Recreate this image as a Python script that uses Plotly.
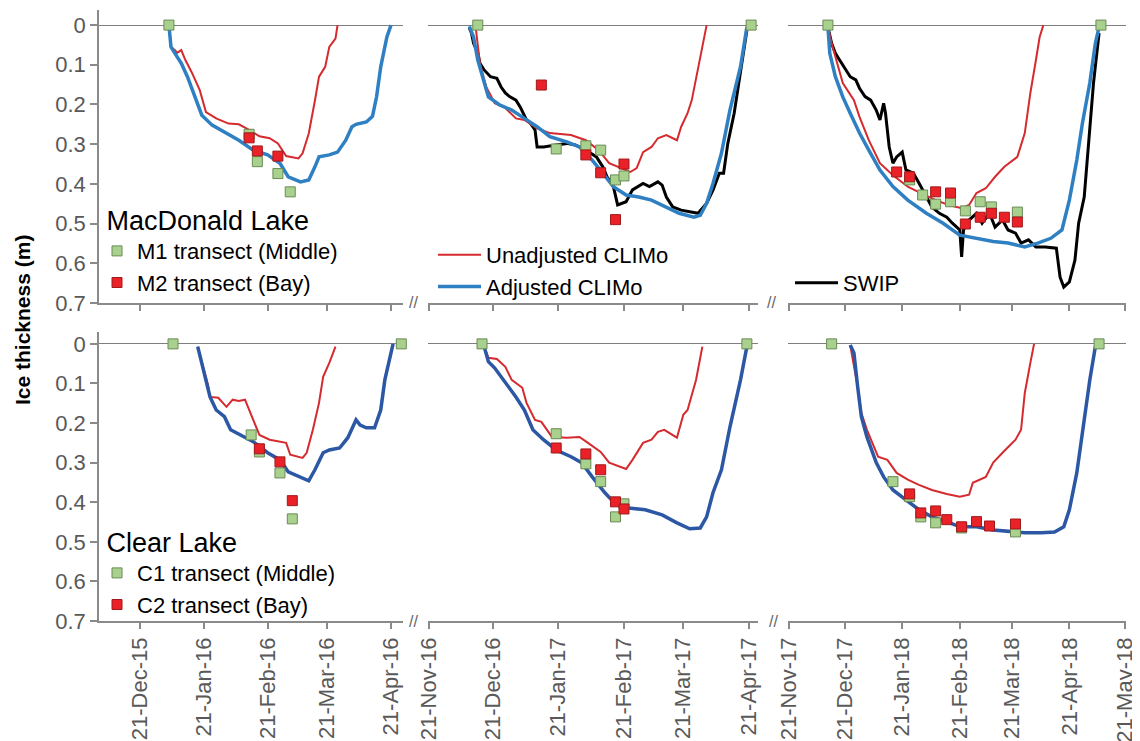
import plotly.graph_objects as go

# ---------------- MacDonald Lake ----------------
# 2015-16
mac16_unadj_dates = ["2016-01-04","2016-01-05","2016-01-07","2016-01-08","2016-01-10","2016-01-12","2016-01-15","2016-01-19","2016-01-22","2016-01-27","2016-02-02","2016-02-07","2016-02-12","2016-02-17","2016-02-22","2016-02-26","2016-03-01","2016-03-07","2016-03-09","2016-03-12","2016-03-15","2016-03-17","2016-03-20","2016-03-22","2016-03-25","2016-03-26"]
mac16_unadj = [0,0.055,0.063,0.07,0.063,0.088,0.118,0.164,0.219,0.235,0.248,0.25,0.264,0.28,0.285,0.298,0.33,0.336,0.323,0.273,0.19,0.13,0.105,0.055,0.034,0]
mac16_adj_dates = ["2016-01-04","2016-01-05","2016-01-08","2016-01-10","2016-01-13","2016-01-16","2016-01-20","2016-01-25","2016-02-01","2016-02-07","2016-02-14","2016-02-21","2016-02-27","2016-03-02","2016-03-08","2016-03-12","2016-03-15","2016-03-17","2016-03-22","2016-03-26","2016-03-30","2016-04-02","2016-04-04","2016-04-09","2016-04-12","2016-04-14","2016-04-16","2016-04-19","2016-04-21"]
mac16_adj = [0,0.055,0.08,0.096,0.13,0.17,0.227,0.252,0.273,0.29,0.315,0.327,0.348,0.382,0.395,0.39,0.357,0.332,0.327,0.32,0.29,0.256,0.25,0.244,0.23,0.18,0.105,0.03,0]
mac16_m1_dates = ["2016-01-04","2016-02-12","2016-02-16","2016-02-26","2016-03-03","2016-04-27"]
mac16_m1 = [0,0.275,0.344,0.374,0.42,0]
mac16_m2_dates = ["2016-02-12","2016-02-16","2016-02-26"]
mac16_m2 = [0.284,0.317,0.33]

# 2016-17
mac17_unadj_dates = ["2016-12-13","2016-12-15","2016-12-18","2016-12-22","2016-12-27","2017-01-01","2017-01-05","2017-01-11","2017-01-17","2017-01-27","2017-02-03","2017-02-09","2017-02-14","2017-02-19","2017-02-24","2017-02-27","2017-03-02","2017-03-06","2017-03-09","2017-03-13","2017-03-18","2017-03-20","2017-03-23","2017-03-25","2017-03-28","2017-03-30","2017-04-01"]
mac17_unadj = [0.005,0.096,0.156,0.197,0.209,0.235,0.239,0.26,0.272,0.277,0.29,0.315,0.348,0.36,0.37,0.36,0.32,0.307,0.285,0.277,0.29,0.256,0.222,0.189,0.105,0.046,0]
mac17_adj_dates = ["2016-12-10","2016-12-12","2016-12-14","2016-12-17","2016-12-19","2016-12-24","2016-12-30","2017-01-05","2017-01-11","2017-01-17","2017-01-25","2017-01-31","2017-02-06","2017-02-11","2017-02-16","2017-02-22","2017-02-28","2017-03-06","2017-03-13","2017-03-19","2017-03-26","2017-03-29","2017-04-01","2017-04-04","2017-04-08","2017-04-12","2017-04-17","2017-04-20"]
mac17_adj = [0.003,0.03,0.088,0.146,0.181,0.2,0.214,0.235,0.256,0.281,0.294,0.307,0.34,0.373,0.407,0.428,0.433,0.441,0.458,0.474,0.484,0.479,0.449,0.399,0.323,0.214,0.105,0.005]
mac17_swip_dates = ["2016-12-10","2016-12-11","2016-12-12","2016-12-14","2016-12-15","2016-12-17","2016-12-20","2016-12-23","2016-12-25","2016-12-27","2016-12-29","2017-01-01","2017-01-03","2017-01-06","2017-01-08","2017-01-10","2017-01-11","2017-01-14","2017-01-20","2017-01-25","2017-01-29","2017-02-03","2017-02-08","2017-02-11","2017-02-13","2017-02-16","2017-02-18","2017-02-22","2017-02-25","2017-03-02","2017-03-05","2017-03-09","2017-03-11","2017-03-13","2017-03-16","2017-03-20","2017-03-24","2017-03-28","2017-03-30","2017-04-01","2017-04-04","2017-04-07","2017-04-09","2017-04-11","2017-04-14","2017-04-16","2017-04-18","2017-04-20"]
mac17_swip = [0.007,0.02,0.046,0.07,0.096,0.113,0.13,0.134,0.156,0.171,0.18,0.189,0.206,0.239,0.248,0.264,0.307,0.307,0.302,0.298,0.302,0.315,0.332,0.357,0.382,0.407,0.453,0.445,0.415,0.399,0.407,0.395,0.403,0.433,0.458,0.466,0.47,0.474,0.461,0.449,0.416,0.373,0.373,0.298,0.222,0.156,0.088,0.013]
mac17_m1_dates = ["2016-12-14","2017-01-20","2017-02-03","2017-02-10","2017-02-17","2017-02-21","2017-04-22"]
mac17_m1 = [0,0.312,0.304,0.315,0.39,0.38,0]
mac17_m2_dates = ["2017-01-13","2017-02-03","2017-02-10","2017-02-17","2017-02-21"]
mac17_m2 = [0.151,0.327,0.372,0.49,0.35]

# 2017-18
mac18_unadj_dates = ["2017-12-12","2017-12-14","2017-12-17","2017-12-20","2017-12-26","2017-12-29","2018-01-03","2018-01-09","2018-01-16","2018-01-24","2018-01-31","2018-02-08","2018-02-15","2018-02-22","2018-02-26","2018-03-02","2018-03-07","2018-03-12","2018-03-17","2018-03-24","2018-03-28","2018-03-31","2018-04-03","2018-04-05","2018-04-07"]
mac18_unadj = [0.005,0.046,0.096,0.146,0.189,0.231,0.29,0.348,0.378,0.407,0.423,0.441,0.453,0.461,0.453,0.423,0.411,0.382,0.357,0.332,0.272,0.171,0.088,0.03,0]
mac18_adj_dates = ["2017-12-12","2017-12-13","2017-12-16","2017-12-20","2017-12-24","2017-12-29","2018-01-03","2018-01-09","2018-01-16","2018-01-24","2018-02-03","2018-02-12","2018-02-21","2018-03-02","2018-03-11","2018-03-19","2018-03-28","2018-04-04","2018-04-11","2018-04-17","2018-04-21","2018-04-25","2018-04-28","2018-05-02","2018-05-05","2018-05-07"]
mac18_adj = [0.005,0.071,0.13,0.181,0.222,0.272,0.315,0.365,0.407,0.441,0.474,0.499,0.529,0.537,0.545,0.549,0.559,0.549,0.537,0.516,0.441,0.34,0.248,0.146,0.046,0.005]
mac18_swip_dates = ["2017-12-12","2017-12-14","2017-12-16","2017-12-19","2017-12-21","2017-12-24","2017-12-27","2017-12-29","2018-01-01","2018-01-04","2018-01-07","2018-01-09","2018-01-11","2018-01-12","2018-01-14","2018-01-16","2018-01-18","2018-01-21","2018-01-23","2018-01-27","2018-01-30","2018-02-03","2018-02-06","2018-02-10","2018-02-14","2018-02-17","2018-02-21","2018-02-22","2018-02-23","2018-02-26","2018-03-02","2018-03-05","2018-03-09","2018-03-12","2018-03-16","2018-03-19","2018-03-23","2018-03-26","2018-03-30","2018-04-03","2018-04-08","2018-04-14","2018-04-16","2018-04-18","2018-04-21","2018-04-24","2018-04-26","2018-04-29","2018-05-02","2018-05-04","2018-05-07"]
mac18_swip = [0.005,0.046,0.071,0.093,0.105,0.13,0.138,0.159,0.18,0.189,0.214,0.239,0.197,0.222,0.307,0.348,0.332,0.32,0.365,0.373,0.398,0.433,0.458,0.474,0.484,0.499,0.516,0.584,0.516,0.491,0.474,0.499,0.474,0.509,0.491,0.516,0.524,0.549,0.541,0.559,0.559,0.562,0.635,0.66,0.647,0.592,0.499,0.433,0.272,0.146,0.02]
mac18_m1_dates = ["2017-12-12","2018-01-25","2018-02-01","2018-02-08","2018-02-16","2018-02-24","2018-03-04","2018-03-10","2018-03-24","2018-05-08"]
mac18_m1 = [0,0.39,0.428,0.451,0.445,0.468,0.445,0.458,0.471,0]
mac18_m2_dates = ["2018-01-18","2018-01-25","2018-02-08","2018-02-16","2018-02-24","2018-03-04","2018-03-10","2018-03-17","2018-03-24"]
mac18_m2 = [0.37,0.382,0.42,0.423,0.501,0.484,0.474,0.484,0.496]

# ---------------- Clear Lake ----------------
clr16_unadj_dates = ["2016-01-18","2016-01-21","2016-01-23","2016-01-24","2016-01-28","2016-02-01","2016-02-04","2016-02-07","2016-02-10","2016-02-14","2016-02-17","2016-02-22","2016-03-01","2016-03-03","2016-03-09","2016-03-11","2016-03-14","2016-03-17","2016-03-19","2016-03-22","2016-03-25"]
clr16_unadj = [0.007,0.066,0.104,0.134,0.136,0.159,0.141,0.144,0.141,0.192,0.23,0.242,0.25,0.28,0.288,0.275,0.217,0.149,0.083,0.048,0.007]
clr16_adj_dates = ["2016-01-18","2016-01-20","2016-01-22","2016-01-24","2016-01-27","2016-01-31","2016-02-03","2016-02-08","2016-02-14","2016-02-21","2016-02-27","2016-03-02","2016-03-08","2016-03-12","2016-03-15","2016-03-19","2016-03-22","2016-03-27","2016-03-31","2016-04-04","2016-04-06","2016-04-09","2016-04-13","2016-04-16","2016-04-18","2016-04-21","2016-04-22"]
clr16_adj = [0.007,0.048,0.091,0.134,0.167,0.184,0.217,0.23,0.247,0.275,0.293,0.323,0.336,0.346,0.318,0.275,0.268,0.263,0.237,0.192,0.205,0.212,0.212,0.167,0.091,0.015,0]
clr16_c1_dates = ["2016-01-06","2016-02-13","2016-02-17","2016-02-27","2016-03-04","2016-04-26"]
clr16_c1 = [0,0.23,0.273,0.326,0.442,0]
clr16_c2_dates = ["2016-02-17","2016-02-27","2016-03-04"]
clr16_c2 = [0.265,0.298,0.396]

clr17_unadj_dates = ["2016-12-17","2016-12-19","2016-12-23","2016-12-27","2016-12-30","2017-01-04","2017-01-06","2017-01-10","2017-01-13","2017-01-18","2017-01-25","2017-01-31","2017-02-04","2017-02-10","2017-02-14","2017-02-22","2017-02-25","2017-03-02","2017-03-06","2017-03-09","2017-03-12","2017-03-18","2017-03-21","2017-03-23","2017-03-27","2017-03-30"]
clr17_unadj = [0.007,0.035,0.038,0.058,0.091,0.111,0.149,0.192,0.197,0.235,0.237,0.235,0.25,0.273,0.3,0.316,0.293,0.25,0.242,0.222,0.217,0.237,0.179,0.167,0.091,0.007]
clr17_adj_dates = ["2016-12-17","2016-12-19","2016-12-22","2016-12-27","2017-01-01","2017-01-05","2017-01-09","2017-01-14","2017-01-20","2017-01-27","2017-02-01","2017-02-06","2017-02-12","2017-02-16","2017-02-22","2017-03-03","2017-03-11","2017-03-18","2017-03-24","2017-03-29","2017-04-01","2017-04-04","2017-04-08","2017-04-12","2017-04-17","2017-04-20"]
clr17_adj = [0.007,0.045,0.061,0.096,0.134,0.167,0.217,0.242,0.268,0.285,0.3,0.336,0.376,0.399,0.414,0.419,0.432,0.452,0.467,0.465,0.437,0.376,0.318,0.21,0.091,0.007]
clr17_c1_dates = ["2016-12-16","2017-01-20","2017-02-03","2017-02-10","2017-02-17","2017-02-21","2017-04-20"]
clr17_c1 = [0,0.227,0.303,0.348,0.437,0.404,0]
clr17_c2_dates = ["2017-01-20","2017-02-03","2017-02-10","2017-02-17","2017-02-21"]
clr17_c2 = [0.263,0.278,0.318,0.399,0.417]

clr18_unadj_dates = ["2017-12-24","2017-12-28","2017-12-30","2018-01-02","2018-01-08","2018-01-13","2018-01-18","2018-01-24","2018-01-30","2018-02-06","2018-02-14","2018-02-21","2018-02-26","2018-02-28","2018-03-07","2018-03-11","2018-03-16","2018-03-23","2018-03-26","2018-03-28","2018-03-31","2018-04-02"]
clr18_unadj = [0.003,0.108,0.174,0.217,0.285,0.293,0.326,0.343,0.356,0.369,0.379,0.386,0.381,0.351,0.336,0.3,0.275,0.242,0.217,0.124,0.048,0]
clr18_adj_dates = ["2017-12-24","2017-12-26","2017-12-28","2017-12-30","2018-01-02","2018-01-07","2018-01-11","2018-01-16","2018-01-23","2018-01-30","2018-02-06","2018-02-14","2018-02-21","2018-03-02","2018-03-11","2018-03-21","2018-03-28","2018-04-06","2018-04-13","2018-04-18","2018-04-21","2018-04-25","2018-04-28","2018-05-02","2018-05-05"]
clr18_adj = [0.003,0.023,0.108,0.184,0.235,0.3,0.336,0.369,0.394,0.419,0.437,0.449,0.462,0.462,0.47,0.475,0.477,0.477,0.475,0.462,0.419,0.326,0.225,0.091,0.007]
clr18_c1_dates = ["2017-12-14","2018-01-16","2018-01-25","2018-01-31","2018-02-08","2018-02-22","2018-03-23","2018-05-07"]
clr18_c1 = [0,0.348,0.386,0.437,0.452,0.465,0.475,0]
clr18_c2_dates = ["2018-01-25","2018-01-31","2018-02-08","2018-02-14","2018-02-22","2018-03-02","2018-03-09","2018-03-23"]
clr18_c2 = [0.379,0.427,0.422,0.444,0.462,0.449,0.46,0.455]

# ---------------- axes ----------------
y_ticks = [0, 0.1, 0.2, 0.3, 0.4, 0.5, 0.6, 0.7]
y_ticktext = ["0", "0.1", "0.2", "0.3", "0.4", "0.5", "0.6", "0.7"]
season_ticks = [
    ["2015-12-21", "2016-01-21", "2016-02-21", "2016-03-21", "2016-04-21"],
    ["2016-11-21", "2016-12-21", "2017-01-21", "2017-02-21", "2017-03-21", "2017-04-21"],
    ["2017-11-21", "2017-12-21", "2018-01-21", "2018-02-21", "2018-03-21", "2018-04-21", "2018-05-21"],
]
season_ranges = [
    ["2015-12-01", "2016-04-26 20:00"],
    ["2016-11-20 12:00", "2017-04-25 06:00"],
    ["2017-11-20 12:00", "2018-05-21 12:00"],
]

# page is offset by the browser's 8px body margin -> figure is 8px smaller
OFF = 8
W, H = 1140 - OFF, 741 - OFF


def px(x):
    return (x - OFF) / W


def py(y):
    return 1 - (y - OFF) / H


FONT = "Liberation Sans, Arial, sans-serif"
RED = "#d52a2e"
BLUE_TOP = "#2f80c3"
BLUE_BOT = "#2b57a5"
GREEN_FILL = "#a9d18e"
GREEN_EDGE = "#6a8a55"
RED_FILL = "#ea2127"
RED_EDGE = "#9e1a1d"
AXIS = "#8a8a8a"
TICKFONT = "#595959"

col_px = [(99, 403), (428, 758), (788, 1126)]
row_px = [(10, 303), (332, 621)]
y_ranges = [[0.7, -0.038], [0.7, -0.03]]

fig = go.Figure()


def ax(k):
    return ("x" if k == 1 else f"x{k}"), ("y" if k == 1 else f"y{k}")


def add_line(k, x, y, color, width, name, legend="legend", show=False):
    xa, ya = ax(k)
    fig.add_trace(go.Scatter(x=x, y=y, mode="lines", name=name,
                             line=dict(color=color, width=width),
                             xaxis=xa, yaxis=ya, legend=legend, showlegend=show))


def add_pts(k, x, y, fill, edge, name, legend="legend", show=False):
    xa, ya = ax(k)
    fig.add_trace(go.Scatter(x=x, y=y, mode="markers", name=name,
                             marker=dict(symbol="square", size=10, color=fill,
                                         line=dict(color=edge, width=1)),
                             cliponaxis=False,
                             xaxis=xa, yaxis=ya, legend=legend, showlegend=show))


# MacDonald Lake (top row)
add_line(2, mac17_swip_dates, mac17_swip, "#000000", 3, "SWIP")
add_line(3, mac18_swip_dates, mac18_swip, "#000000", 3, "SWIP", "legend3", True)
add_line(1, mac16_unadj_dates, mac16_unadj, RED, 2, "Unadjusted CLIMo", "legend2", True)
add_line(2, mac17_unadj_dates, mac17_unadj, RED, 2, "Unadjusted CLIMo")
add_line(3, mac18_unadj_dates, mac18_unadj, RED, 2, "Unadjusted CLIMo")
add_line(1, mac16_adj_dates, mac16_adj, BLUE_TOP, 3.5, "Adjusted CLIMo", "legend2", True)
add_line(2, mac17_adj_dates, mac17_adj, BLUE_TOP, 3.5, "Adjusted CLIMo")
add_line(3, mac18_adj_dates, mac18_adj, BLUE_TOP, 3.5, "Adjusted CLIMo")
add_pts(1, mac16_m1_dates, mac16_m1, GREEN_FILL, GREEN_EDGE, "M1 transect (Middle)", "legend", True)
add_pts(1, mac16_m2_dates, mac16_m2, RED_FILL, RED_EDGE, "M2 transect (Bay)", "legend", True)
add_pts(2, mac17_m1_dates, mac17_m1, GREEN_FILL, GREEN_EDGE, "M1 transect (Middle)")
add_pts(2, mac17_m2_dates, mac17_m2, RED_FILL, RED_EDGE, "M2 transect (Bay)")
add_pts(3, mac18_m1_dates, mac18_m1, GREEN_FILL, GREEN_EDGE, "M1 transect (Middle)")
add_pts(3, mac18_m2_dates, mac18_m2, RED_FILL, RED_EDGE, "M2 transect (Bay)")

# Clear Lake (bottom row)
add_line(4, clr16_unadj_dates, clr16_unadj, RED, 2, "Unadjusted CLIMo")
add_line(5, clr17_unadj_dates, clr17_unadj, RED, 2, "Unadjusted CLIMo")
add_line(6, clr18_unadj_dates, clr18_unadj, RED, 2, "Unadjusted CLIMo")
add_line(4, clr16_adj_dates, clr16_adj, BLUE_BOT, 3.5, "Adjusted CLIMo")
add_line(5, clr17_adj_dates, clr17_adj, BLUE_BOT, 3.5, "Adjusted CLIMo")
add_line(6, clr18_adj_dates, clr18_adj, BLUE_BOT, 3.5, "Adjusted CLIMo")
add_pts(4, clr16_c1_dates, clr16_c1, GREEN_FILL, GREEN_EDGE, "C1 transect (Middle)", "legend4", True)
add_pts(4, clr16_c2_dates, clr16_c2, RED_FILL, RED_EDGE, "C2 transect (Bay)", "legend4", True)
add_pts(5, clr17_c1_dates, clr17_c1, GREEN_FILL, GREEN_EDGE, "C1 transect (Middle)")
add_pts(5, clr17_c2_dates, clr17_c2, RED_FILL, RED_EDGE, "C2 transect (Bay)")
add_pts(6, clr18_c1_dates, clr18_c1, GREEN_FILL, GREEN_EDGE, "C1 transect (Middle)")
add_pts(6, clr18_c2_dates, clr18_c2, RED_FILL, RED_EDGE, "C2 transect (Bay)")

layout = {}
for r in range(2):
    for c in range(3):
        k = r * 3 + c + 1
        sfx = "" if k == 1 else str(k)
        x0, x1 = col_px[c]
        y0, y1 = row_px[r]
        layout["xaxis" + sfx] = dict(
            domain=[px(x0), px(x1)], range=season_ranges[c], type="date",
            anchor="y" + sfx, tickvals=season_ticks[c], tickformat="%d-%b-%y",
            tickangle=-90, showticklabels=(r == 1), ticks="outside", ticklen=6,
            tickcolor=AXIS, tickwidth=1.5, showline=True, linecolor=AXIS, linewidth=1.5,
            showgrid=False, zeroline=False, automargin=False,
            tickfont=dict(family=FONT, size=22, color=TICKFONT))
        first = (c == 0)
        layout["yaxis" + sfx] = dict(
            domain=[py(y1), py(y0)], range=y_ranges[r], anchor="x" + sfx,
            tickvals=y_ticks, ticktext=y_ticktext, showticklabels=first,
            ticks="outside" if first else "", ticklen=7, tickcolor=AXIS, tickwidth=1.5,
            showline=first, linecolor=AXIS, linewidth=1.5, showgrid=False,
            zeroline=True, zerolinecolor="#7f7f7f", zerolinewidth=1.2, automargin=False,
            tickfont=dict(family=FONT, size=22, color=TICKFONT))

leg_common = dict(xanchor="left", yanchor="top", bgcolor="rgba(0,0,0,0)",
                  borderwidth=0, font=dict(family=FONT, size=22, color="#000000"),
                  traceorder="normal")
layout["legend"] = dict(leg_common, x=px(97), y=py(195),
                        title=dict(text="&nbsp;MacDonald Lake", font=dict(family=FONT, size=27, color="#000000")))
layout["legend2"] = dict(leg_common, x=px(433), y=py(234), itemwidth=43)
layout["legend3"] = dict(leg_common, x=px(790), y=py(262), itemwidth=43)
layout["legend4"] = dict(leg_common, x=px(97), y=py(517),
                         title=dict(text="&nbsp;Clear Lake", font=dict(family=FONT, size=27, color="#000000")))

annotations = [
    dict(text="<b>Ice thickness (m)</b>", x=px(22), y=py(320), xref="paper", yref="paper",
         xanchor="center", yanchor="middle",
         textangle=-90, showarrow=False, font=dict(family=FONT, size=21, color="#000000")),
]
for bx, by in [(413, 303), (771, 303), (413, 621), (773, 621)]:
    annotations.append(dict(text="//", x=px(bx), y=py(by), xref="paper", yref="paper",
                            xanchor="center", yanchor="middle",
                            showarrow=False, font=dict(family=FONT, size=16, color="#666666")))

fig.update_layout(**layout)
fig.update_layout(width=W, height=H, margin=dict(l=0, r=0, t=0, b=0, autoexpand=False),
                  plot_bgcolor="white", paper_bgcolor="white",
                  font=dict(family=FONT), annotations=annotations)

fig.write_html("out.html")
